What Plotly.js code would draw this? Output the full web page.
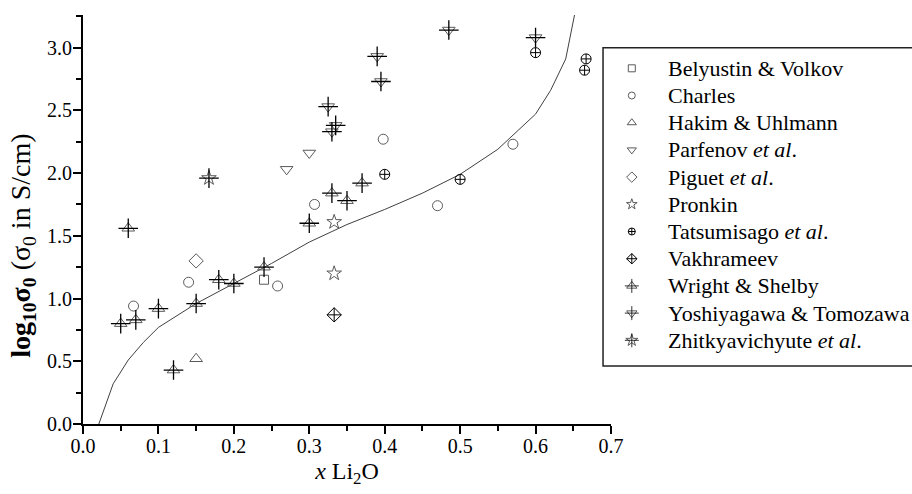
<!DOCTYPE html>
<html><head><meta charset="utf-8">
<script src="https://cdn.plot.ly/plotly-3.0.1.min.js"></script>
<style>html,body{margin:0;padding:0;background:#fff}</style>
</head><body><div id="chart" style="width:912px;height:494px"></div>
<script>
// ---- data ----
const seriesNames = ['Belyustin &amp; Volkov', 'Charles', 'Hakim &amp; Uhlmann', 'Parfenov <i>et al</i>.',
  'Piguet <i>et al</i>.', 'Pronkin', 'Tatsumisago <i>et al</i>.', 'Vakhrameev', 'Wright &amp; Shelby',
  'Yoshiyagawa &amp; Tomozawa', 'Zhitkyavichyute <i>et al</i>.'];
const belyustinX = [0.24];
const belyustinY = [1.15];
const charlesX = [0.067, 0.14, 0.258, 0.307, 0.398, 0.47, 0.57];
const charlesY = [0.94, 1.13, 1.10, 1.75, 2.27, 1.74, 2.23];
const hakimX = [0.15];
const hakimY = [0.52];
const parfenovX = [0.27, 0.30];
const parfenovY = [2.03, 2.16];
const piguetX = [0.15];
const piguetY = [1.30];
const pronkinX = [0.333, 0.333];
const pronkinY = [1.61, 1.20];
const tatsumisagoX = [0.40, 0.50, 0.60, 0.665, 0.667];
const tatsumisagoY = [1.99, 1.95, 2.96, 2.82, 2.91];
const vakhrameevX = [0.333];
const vakhrameevY = [0.87];
const wrightX = [0.05, 0.06, 0.07, 0.10, 0.12, 0.15, 0.18, 0.20, 0.24, 0.30, 0.33, 0.35, 0.37];
const wrightY = [0.80, 1.56, 0.83, 0.92, 0.43, 0.96, 1.15, 1.12, 1.25, 1.60, 1.84, 1.78, 1.92];
const yoshiX = [0.325, 0.33, 0.335, 0.39, 0.395, 0.485, 0.60];
const yoshiY = [2.53, 2.33, 2.38, 2.93, 2.73, 3.14, 3.08];
const zhitX = [0.167];
const zhitY = [1.96];
const curveX = [0.021, 0.04, 0.06, 0.08, 0.10, 0.15, 0.20, 0.25, 0.30, 0.35, 0.40, 0.45, 0.50, 0.55, 0.60, 0.62, 0.64, 0.655];
const curveY = [0.00, 0.32, 0.51, 0.65, 0.77, 0.96, 1.12, 1.28, 1.45, 1.59, 1.71, 1.84, 1.99, 2.19, 2.47, 2.66, 2.91, 3.36];
const xTickVals = [0, 0.1, 0.2, 0.3, 0.4, 0.5, 0.6, 0.7];
const yTickVals = [0, 0.5, 1.0, 1.5, 2.0, 2.5, 3.0];
const xTitle = '<i>x</i> Li<sub>2</sub>O';
const yTitle = '<b>log<sub>10</sub>σ<sub>0</sub></b> (σ<sub>0</sub> in S/cm)';
// ---------------------------------------

const FONT = 'Liberation Serif, Times New Roman, serif';
const GREY = '#5a5a5a';

const styles = [
  {sym: 'square-open', size: 9, color: GREY, cross: false},
  {sym: 'circle-open', size: 10, color: GREY, cross: false},
  {sym: 'triangle-up-open', size: 11, color: GREY, cross: false},
  {sym: 'triangle-down-open', size: 11, color: GREY, cross: false},
  {sym: 'diamond-open', size: 11, color: GREY, cross: false},
  {sym: 'star-open', size: 11, color: GREY, cross: false},
  {sym: 'circle-cross-open', size: 10, color: '#000', cross: false},
  {sym: 'diamond-cross-open', size: 11, color: '#000', cross: false},
  {sym: 'triangle-up-open', size: 11, color: GREY, cross: true},
  {sym: 'triangle-down-open', size: 11, color: GREY, cross: true},
  {sym: 'star-open', size: 11, color: GREY, cross: true}
];
const seriesX = [belyustinX, charlesX, hakimX, parfenovX, piguetX, pronkinX, tatsumisagoX, vakhrameevX, wrightX, yoshiX, zhitX];
const seriesY = [belyustinY, charlesY, hakimY, parfenovY, piguetY, pronkinY, tatsumisagoY, vakhrameevY, wrightY, yoshiY, zhitY];

const traces = [
  {type: 'scatter', mode: 'lines', x: curveX, y: curveY, showlegend: false,
   line: {color: '#404040', width: 1}, hoverinfo: 'skip'}
];
const crossTraces = [];
seriesNames.forEach(function (name, i) {
  const s = styles[i];
  traces.push({type: 'scatter', mode: 'markers', name: name, x: seriesX[i], y: seriesY[i],
    marker: {symbol: s.sym, size: s.size, color: s.color, line: {color: s.color, width: 1}},
    cliponaxis: false, showlegend: false});
  if (s.cross) {
    crossTraces.push({type: 'scatter', mode: 'markers', x: seriesX[i], y: seriesY[i], showlegend: false,
      hoverinfo: 'skip', cliponaxis: false,
      marker: {symbol: 'cross-thin-open', size: 14, color: '#000', line: {color: '#000', width: 1.3}}});
  }
});

// hand-made legend: key markers on a hidden helper axis pair, names as text
const annotations = [];
seriesNames.forEach(function (name, i) {
  const s = styles[i];
  const small = s.sym.indexOf('circle') === 0 || s.sym.indexOf('square') === 0 ? 7 : 8;
  traces.push({type: 'scatter', mode: 'markers', xaxis: 'x2', yaxis: 'y2', x: [0.155], y: [i],
    showlegend: false, hoverinfo: 'skip', cliponaxis: false,
    marker: {symbol: s.sym, size: s.cross ? 9 : small, color: s.color, line: {color: s.color, width: 1}}});
  if (s.cross) {
    traces.push({type: 'scatter', mode: 'markers', xaxis: 'x2', yaxis: 'y2', x: [0.155], y: [i],
      showlegend: false, hoverinfo: 'skip', cliponaxis: false,
      marker: {symbol: 'cross-thin-open', size: 10, color: '#000', line: {color: '#000', width: 0.8}}});
  }
  annotations.push({xref: 'paper', yref: 'y2', x: 0.7033, y: i, xanchor: 'left', yanchor: 'middle',
    text: name, showarrow: false, font: {family: FONT, size: 22, color: '#000'}});
});
traces.push.apply(traces, crossTraces);

// y-axis title (placed like the reference, slightly below the axis centre)
annotations.push({xref: 'paper', yref: 'paper', x: -0.073, y: 0.437, xanchor: 'center', yanchor: 'middle',
  textangle: -90, text: yTitle, showarrow: false, font: {family: FONT, size: 28, color: '#000'}});

const axisCommon = {
  showgrid: false, zeroline: false, showline: true, linecolor: '#000', linewidth: 2,
  ticks: 'outside', ticklen: 8, tickwidth: 2, tickcolor: '#000',
  tickfont: {family: FONT, size: 20, color: '#000'}, tickformat: '.1f'
};

const layout = {
  width: 912, height: 494,
  margin: {l: 83, r: 0, t: 15, b: 70, autoexpand: false},
  paper_bgcolor: '#fff', plot_bgcolor: 'rgba(0,0,0,0)',
  font: {family: FONT, color: '#000'},
  showlegend: false,
  xaxis: Object.assign({}, axisCommon, {
    domain: [0, 0.6369], range: [0, 0.7], tickvals: xTickVals, ticklabelstandoff: -5,
    minor: {dtick: 0.05, ticks: 'outside', ticklen: 5, tickwidth: 2, tickcolor: '#000'},
    title: {text: xTitle, font: {family: FONT, size: 24, color: '#000'}, standoff: 6}
  }),
  yaxis: Object.assign({}, axisCommon, {
    range: [0, 3.26], tickvals: yTickVals, ticklabelstandoff: -3,
    minor: {dtick: 0.25, ticks: 'outside', ticklen: 5, tickwidth: 2, tickcolor: '#000'}
  }),
  xaxis2: {domain: [0.6, 1], range: [0, 1], visible: false, fixedrange: true, anchor: 'y2'},
  yaxis2: {domain: [0, 1], range: [13.077, -1.96], visible: false, fixedrange: true, anchor: 'x2'},
  shapes: [{type: 'rect', xref: 'paper', yref: 'paper', x0: 0.6273, x1: 1.02, y0: 0.1418, y1: 0.92,
    line: {color: '#222', width: 1.5}, fillcolor: 'rgba(0,0,0,0)', layer: 'below'}],
  annotations: annotations
};

Plotly.newPlot('chart', traces, layout, {displayModeBar: false, staticPlot: true});
</script></body></html>
